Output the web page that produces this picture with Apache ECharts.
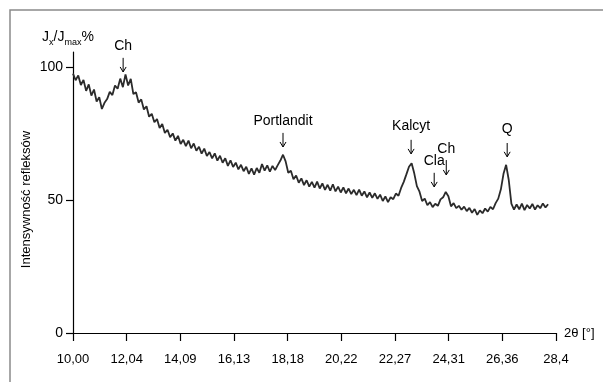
<!DOCTYPE html>
<html>
<head>
<meta charset="utf-8">
<script src="https://cdn.jsdelivr.net/npm/echarts@6/dist/echarts.min.js"></script>
<style>
html, body { margin: 0; padding: 0; background: #fff; }
#chart { width: 603px; height: 382px; }
</style>
</head>
<body>
<div id="chart"></div>
<script>
// dyfraktogram
const twoTheta = [
  10.0, 10.1, 10.2, 10.3, 10.4, 10.5, 10.6, 10.7, 10.8, 10.9,
  11.0, 11.1, 11.2, 11.3, 11.4, 11.5, 11.6, 11.7, 11.8, 11.9,
  12.0, 12.1, 12.2, 12.3, 12.4, 12.5, 12.6, 12.7, 12.8, 12.9,
  13.0, 13.1, 13.2, 13.3, 13.4, 13.5, 13.6, 13.7, 13.8, 13.9,
  14.0, 14.1, 14.2, 14.3, 14.4, 14.5, 14.6, 14.7, 14.8, 14.9,
  15.0, 15.1, 15.2, 15.3, 15.4, 15.5, 15.6, 15.7, 15.8, 15.9,
  16.0, 16.1, 16.2, 16.3, 16.4, 16.5, 16.6, 16.7, 16.8, 16.9,
  17.0, 17.1, 17.2, 17.3, 17.4, 17.5, 17.6, 17.7, 17.8, 17.9,
  18.0, 18.1, 18.2, 18.3, 18.4, 18.5, 18.6, 18.7, 18.8, 18.9,
  19.0, 19.1, 19.2, 19.3, 19.4, 19.5, 19.6, 19.7, 19.8, 19.9,
  20.0, 20.1, 20.2, 20.3, 20.4, 20.5, 20.6, 20.7, 20.8, 20.9,
  21.0, 21.1, 21.2, 21.3, 21.4, 21.5, 21.6, 21.7, 21.8, 21.9,
  22.0, 22.1, 22.2, 22.3, 22.4, 22.5, 22.6, 22.7, 22.8, 22.9,
  23.0, 23.1, 23.2, 23.3, 23.4, 23.5, 23.6, 23.7, 23.8, 23.9,
  24.0, 24.1, 24.2, 24.3, 24.4, 24.5, 24.6, 24.7, 24.8, 24.9,
  25.0, 25.1, 25.2, 25.3, 25.4, 25.5, 25.6, 25.7, 25.8, 25.9,
  26.0, 26.1, 26.2, 26.3, 26.4, 26.5, 26.6, 26.7, 26.8, 26.9,
  27.0, 27.1, 27.2, 27.3, 27.4, 27.5, 27.6, 27.7, 27.8, 27.9,
  28.0, 28.1
];
const intensity = [
  97.5, 95.0, 96.8, 93.2, 95.1, 91.0, 93.4, 89.2, 91.5, 87.0,
  88.6, 84.2, 86.5, 87.9, 90.6, 89.4, 93.0, 91.8, 95.6, 92.4,
  97.2, 93.0, 95.5, 89.8, 90.5, 86.6, 87.8, 84.0, 85.2, 81.3,
  82.4, 79.2, 80.4, 77.0, 78.5, 75.2, 76.4, 73.6, 75.0, 72.3,
  74.1, 71.0, 72.6, 70.2, 72.3, 69.4, 71.2, 68.5, 70.0, 67.4,
  69.3, 66.5, 68.0, 65.6, 67.5, 64.8, 66.6, 64.0, 65.7, 62.8,
  64.9, 62.4, 64.0, 61.5, 63.2, 60.8, 62.5, 59.8, 61.9, 59.5,
  62.0, 60.2, 63.5, 61.0, 63.0, 60.6, 62.8, 61.2, 63.1, 64.8,
  67.0, 64.5, 60.2, 61.0, 57.8, 59.2, 56.5, 58.1, 55.6, 57.4,
  55.0, 56.8, 54.6, 56.9, 54.3, 56.2, 53.8, 55.7, 53.5, 55.9,
  53.2, 55.0, 52.8, 54.7, 52.5, 54.3, 52.2, 53.8, 51.8, 53.9,
  51.6, 53.2, 51.0, 52.8, 50.8, 52.5, 50.4, 52.0, 49.6, 51.3,
  49.2, 51.0, 50.3, 52.4, 51.6, 54.5, 56.8, 59.6, 62.5, 63.8,
  60.0, 55.2, 53.1, 49.6, 50.5, 48.0, 49.2, 47.3, 48.6, 47.8,
  50.2, 51.0, 53.0, 51.4, 47.6, 48.8, 46.9, 47.8, 46.3, 47.5,
  45.8, 47.0, 45.2, 46.6, 44.4, 46.1, 45.0, 46.8, 45.6, 47.4,
  46.5, 48.8, 50.5, 54.0, 59.8, 63.2, 57.5, 48.6, 46.4, 48.3,
  46.5, 48.6, 46.2, 48.1, 46.8, 48.5, 46.4, 48.0, 46.9, 48.7,
  47.2, 48.4
];

const xTickValues = [10, 12.0444, 14.0889, 16.1333, 18.1778, 20.2222, 22.2667, 24.3111, 26.3556, 28.4];
const xTickLabels = ['10,00', '12,04', '14,09', '16,13', '18,18', '20,22', '22,27', '24,31', '26,36', '28,4'];
const yTickValues = [0, 50, 100];

// opisy pików: nazwa, 2θ, wysokość napisu, początek i koniec strzałki
const peakNames = ['Ch', 'Portlandit', 'Kalcyt', 'Cla', 'Ch', 'Q'];
const peakTheta = [11.91, 18.0, 22.88, 23.76, 24.22, 26.54];
const peakLabelY = [107.9, 79.7, 77.8, 64.7, 69.2, 76.7];
const arrowTop = [103.4, 75.2, 72.6, 60.2, 65.0, 71.4];
const arrowBottom = [98.1, 69.9, 67.3, 54.9, 59.4, 66.2];

const FONT = '"Liberation Sans", Arial, sans-serif';
const FS = 13;

const chart = echarts.init(document.getElementById('chart'));

const option = {
  animation: false,
  grid: { left: 73, right: 47, top: 52, bottom: 49 },
  xAxis: {
    type: 'value',
    min: 10,
    max: 28.4,
    name: '2θ [°]',
    nameLocation: 'end',
    nameGap: 8,
    nameTextStyle: { color: '#000', fontFamily: FONT, fontSize: FS, padding: [0, 0, 6, 0] },
    axisLine: { lineStyle: { color: '#000', width: 1.2 } },
    axisTick: { show: true, length: 8, customValues: xTickValues, lineStyle: { color: '#000', width: 1.2 } },
    axisLabel: {
      customValues: xTickValues,
      margin: 20,
      color: '#000',
      fontFamily: FONT,
      fontSize: FS,
      formatter: function (v) {
        let best = 0;
        xTickValues.forEach((t, i) => { if (Math.abs(t - v) < Math.abs(xTickValues[best] - v)) best = i; });
        return xTickLabels[best];
      }
    },
    splitLine: { show: false }
  },
  yAxis: {
    type: 'value',
    min: 0,
    max: 105.6,
    name: 'Intensywność refleksów',
    nameLocation: 'middle',
    nameGap: 40,
    nameRotate: 90,
    nameMoveOverlap: false,
    nameTextStyle: { color: '#000', fontFamily: FONT, fontSize: FS, padding: [0, 0, 0, -14] },
    axisLine: { show: true, lineStyle: { color: '#000', width: 1.2 } },
    axisTick: { show: true, length: 7, customValues: yTickValues, lineStyle: { color: '#000', width: 1.2 } },
    axisLabel: { customValues: yTickValues, margin: 10, color: '#000', fontFamily: FONT, fontSize: FS + 1 },
    splitLine: { show: false }
  },
  series: [{
    type: 'line',
    data: twoTheta.map((t, i) => [t, intensity[i]]),
    showSymbol: false,
    lineStyle: { color: '#2b2b2b', width: 1.8 }
  }]
};
chart.setOption(option);

// ramka, opis osi Y i strzałki z opisami pików
const graphics = [
  { type: 'polyline', shape: { points: [[10, 382], [10, 10], [603, 10]] }, style: { stroke: '#8a8a8a', lineWidth: 1.5, fill: null } },
  {
    type: 'text', left: 42, top: 30,
    style: {
      text: '{j|J}{s|x}{j|/J}{s|max}{j|%}',
      rich: {
        j: { fontFamily: FONT, fontSize: FS + 1, fill: '#000', lineHeight: 18, verticalAlign: 'bottom' },
        s: { fontFamily: FONT, fontSize: 9, fill: '#000', lineHeight: 18, verticalAlign: 'bottom', padding: [0, 0, -3, 0] }
      }
    }
  }
];
peakNames.forEach((name, i) => {
  const lab = chart.convertToPixel({ gridIndex: 0 }, [peakTheta[i], peakLabelY[i]]);
  const a = chart.convertToPixel({ gridIndex: 0 }, [peakTheta[i], arrowTop[i]]);
  const b = chart.convertToPixel({ gridIndex: 0 }, [peakTheta[i], arrowBottom[i]]);
  graphics.push({
    type: 'text', x: lab[0], y: lab[1],
    style: { text: name, fontFamily: FONT, fontSize: FS + 1, fill: '#000', align: 'center', verticalAlign: 'middle' }
  });
  graphics.push({
    type: 'line', shape: { x1: a[0], y1: a[1], x2: b[0], y2: b[1] },
    style: { stroke: '#000', lineWidth: 1 }
  });
  graphics.push({
    type: 'polyline', shape: { points: [[b[0] - 3, b[1] - 5], [b[0], b[1]], [b[0] + 3, b[1] - 5]] },
    style: { stroke: '#000', lineWidth: 1, fill: null }
  });
});
chart.setOption({ graphic: graphics });
</script>
</body>
</html>
